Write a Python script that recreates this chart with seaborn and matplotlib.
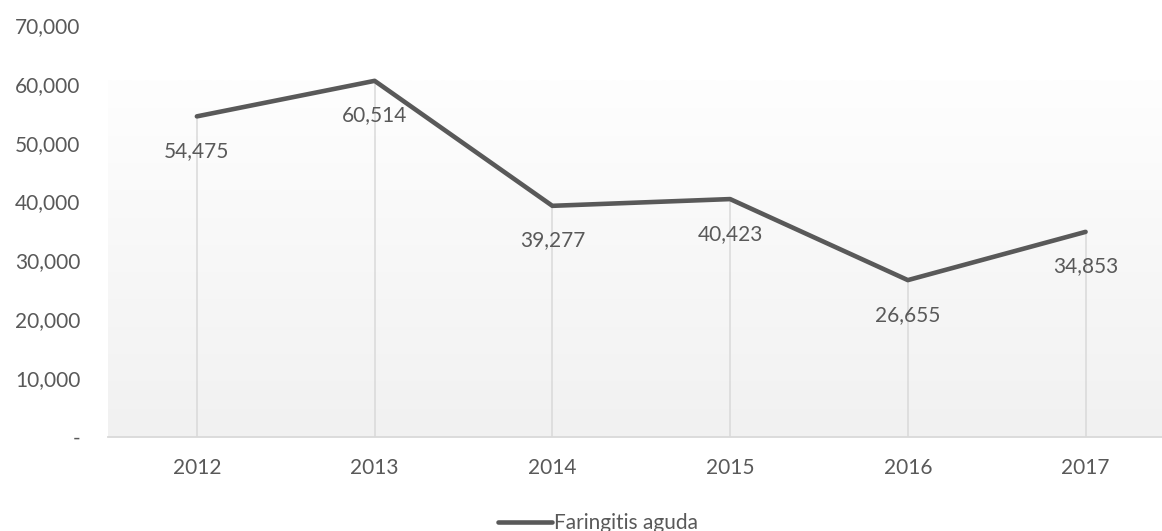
import numpy as np
import pandas as pd
import matplotlib
matplotlib.use("Agg")
import matplotlib.pyplot as plt
from matplotlib.colors import LinearSegmentedColormap
from matplotlib.ticker import FuncFormatter
import seaborn as sns

# ── data ────────────────────────────────────────────────
years  = ["2012", "2013", "2014", "2015", "2016", "2017"]
cases  = [54475, 60514, 39277, 40423, 26655, 34853]
series = "Faringitis aguda"
yticks = [0, 10000, 20000, 30000, 40000, 50000, 60000, 70000]

TXT  = "#595959"
LINE = "#595959"
GRID = "#d9d9d9"
FS   = 15

sns.set_theme(style="white")
plt.rcParams["font.family"] = ["Lato", "DejaVu Sans"]

df = pd.DataFrame({"year": years, "cases": cases, "serie": series})

fig = plt.figure(figsize=(11.62, 5.31), dpi=100)
ax  = fig.add_axes([108/1162, (531-437)/531, (1162-108)/1162, (437-25)/531])

# gradient backdrop up to the series max
cmap = LinearSegmentedColormap.from_list("g", ["#f1f1f1", "#fefefe"])
grad = np.linspace(0, 1, 256).reshape(-1, 1)
ax.imshow(grad, cmap=cmap, origin="lower", aspect="auto",
          extent=(-0.5, 5.5, 0, max(cases)), zorder=0)

# drop lines
ax.vlines(range(len(years)), 0, cases, color=GRID, lw=1.1, zorder=1)

sns.lineplot(data=df, x="year", y="cases", hue="serie", palette=[LINE],
             lw=3.3, ax=ax, zorder=3, sort=False)

for i, v in enumerate(cases):
    ax.annotate(f"{v:,}", (i, v), xytext=(0, -25), textcoords="offset points",
                ha="center", va="center", fontsize=FS, color=TXT, zorder=4)

ax.set_xlim(-0.5, 5.43)
ax.set_ylim(0, 70000)
ax.set_yticks(yticks)
ax.yaxis.set_major_formatter(FuncFormatter(lambda v, p: "-" if v == 0 else f"{int(v):,}"))
ax.tick_params(axis="y", length=0, pad=20, labelsize=FS, labelcolor=TXT)
ax.tick_params(axis="x", length=0, pad=15, labelsize=FS, labelcolor=TXT)
ax.set_xlabel(""); ax.set_ylabel("")

for s in ["left", "right", "top"]:
    ax.spines[s].set_visible(False)
ax.spines["bottom"].set_color(GRID)
ax.spines["bottom"].set_linewidth(1.3)
ax.set_facecolor("white")

ax.legend(loc="center", bbox_to_anchor=(598/1162, (531-523)/531),
          bbox_transform=fig.transFigure, frameon=False, fontsize=FS,
          handlelength=2.6, handletextpad=0.1, labelcolor=TXT)

fig.savefig("out.png", dpi=100)
